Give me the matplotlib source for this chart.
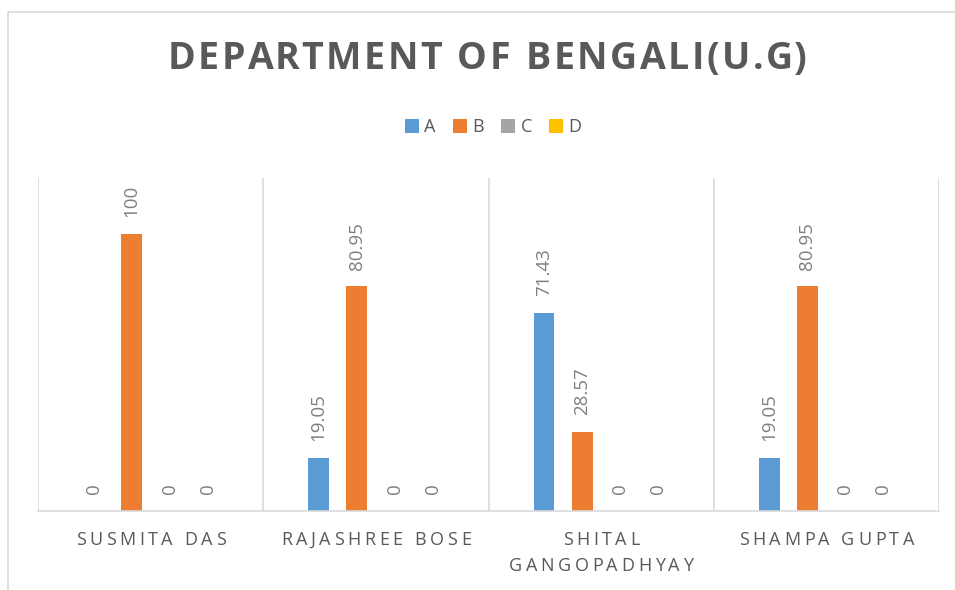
import numpy as np
import matplotlib
matplotlib.use("Agg")
import matplotlib.pyplot as plt
from matplotlib.patches import Rectangle

teachers = ["SUSMITA DAS", "RAJASHREE BOSE", "SHITAL\nGANGOPADHYAY", "SHAMPA GUPTA"]
grade_a = [0, 19.05, 71.43, 19.05]
grade_b = [100, 80.95, 28.57, 80.95]
grade_c = [0, 0, 0, 0]
grade_d = [0, 0, 0, 0]
series_names = ["A", "B", "C", "D"]
colors = ["#5B9BD5", "#ED7D31", "#A5A5A5", "#FFC000"]

W, H = 955, 590
TEXT = "#595959"
GRID = "#D9D9D9"
plt.rcParams["font.family"] = ["Open Sans", "DejaVu Sans"]

fig = plt.figure(figsize=(W / 100, H / 100), dpi=100)
renderer = fig.canvas.get_renderer()


def px(x, y):
    return x / W, 1 - y / H


def text_width(s, **kw):
    t = fig.text(0, 0, s, **kw)
    w = t.get_window_extent(renderer).width
    t.remove()
    return w


def spaced_text(cx, cy, s, spacing, **kw):
    # draw letter-spaced text centred at pixel (cx, cy)
    ref = text_width("I", **kw)
    lefts = [text_width(s[:i] + "I", **kw) - ref if i else 0.0 for i in range(len(s))]
    total = text_width(s, **kw) + spacing * (len(s) - 1)
    x0 = cx - total / 2
    for i, ch in enumerate(s):
        if ch == " ":
            continue
        fig.text(*px(x0 + lefts[i] + i * spacing, cy), ch, ha="left", va="center", **kw)


# chart area border (only top and left edges fall inside the image)
fig.patches.append(Rectangle(px(8, 620), (W + 20) / W, (620 - 12) / H,
                             transform=fig.transFigure, fill=False,
                             edgecolor=GRID, linewidth=1.2))

ax = fig.add_axes([38 / W, (H - 511) / H, (939 - 38) / W, (511 - 178) / H])
ax.set_facecolor("none")

series = [grade_a, grade_b, grade_c, grade_d]
x = np.arange(len(teachers))
step, width = 0.169, 0.093
for k, (vals, col) in enumerate(zip(series, colors)):
    pos = x + (k - 1.5) * step
    ax.bar(pos, vals, width=width, color=col, label=series_names[k], zorder=2)
    for p, v in zip(pos, vals):
        lbl = f"{v:.2f}" if v != int(v) else f"{int(v)}"
        ax.annotate(lbl, (p, v), xytext=(0, 12), textcoords="offset points",
                    rotation=90, ha="center", va="bottom", fontsize=13.5,
                    color="#7F7F7F")

ax.set_xlim(-0.5, len(teachers) - 0.5)
ax.set_ylim(0, 120)
for b in np.arange(-0.5, len(teachers), 1):
    ax.axvline(b, color=GRID, linewidth=1.2, zorder=1)
for s in ["top", "right", "left"]:
    ax.spines[s].set_visible(False)
ax.spines["bottom"].set_color(GRID)
ax.spines["bottom"].set_linewidth(1.2)
ax.set_xticks([])
ax.set_yticks([])

# category labels
for i, name in enumerate(teachers):
    cx = 38 + (i + 0.5) * (939 - 38) / len(teachers)
    for j, line in enumerate(name.split("\n")):
        spaced_text(cx, 540 + j * 26, line, 3.6, fontsize=13, color=TEXT)

# title
spaced_text(487, 59, "DEPARTMENT OF BENGALI(U.G)", 2.6, fontsize=27,
            fontweight="bold", color=TEXT)

fig.legend(loc="center", bbox_to_anchor=px(493, 127), ncol=4, frameon=False,
           fontsize=13, labelcolor=TEXT, handlelength=0.78, handleheight=0.78,
           handletextpad=0.3, columnspacing=0.95)

fig.savefig("out.png", dpi=100)
